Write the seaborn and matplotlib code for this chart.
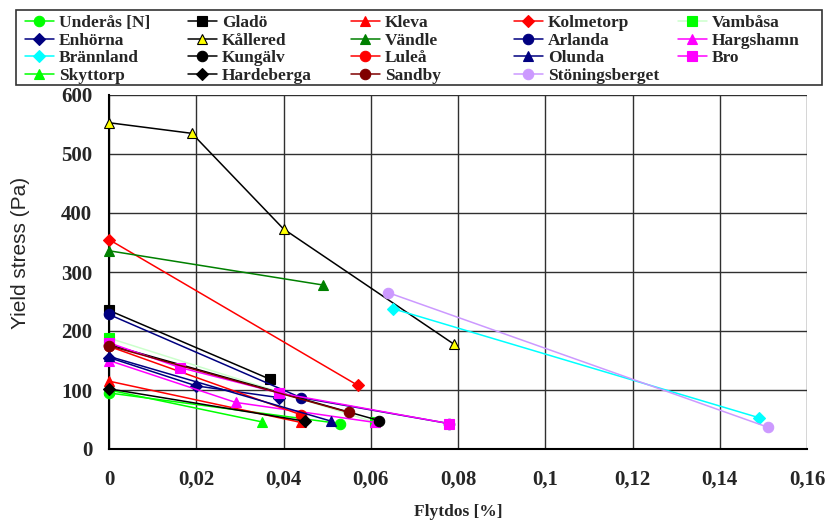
import matplotlib
matplotlib.use("Agg")
import matplotlib.pyplot as plt
import matplotlib.patches as mpatches
import seaborn as sns
import pandas as pd
from matplotlib.ticker import FuncFormatter

# data (x = Flytdos [%], y = yield stress Pa)
names = ['Underås [N]', 'Gladö', 'Kleva', 'Kolmetorp', 'Vambåsa',
         'Enhörna', 'Kållered', 'Vändle', 'Arlanda', 'Hargshamn',
         'Brännland', 'Kungälv', 'Luleå', 'Olunda', 'Bro',
         'Skyttorp', 'Hardeberga', 'Sandby', 'Stöningsberget']

x_vals = {
    'Underås [N]': [0, 0.053],
    'Gladö': [0, 0.037],
    'Kleva': [0, 0.044],
    'Kolmetorp': [0, 0.057],
    'Vambåsa': [0, 0.061],
    'Enhörna': [0, 0.020, 0.039],
    'Kållered': [0, 0.019, 0.040, 0.079],
    'Vändle': [0, 0.049],
    'Arlanda': [0, 0.044, 0.078],
    'Hargshamn': [0, 0.029, 0.061],
    'Brännland': [0.065, 0.149],
    'Kungälv': [0, 0.062],
    'Luleå': [0, 0.044],
    'Olunda': [0, 0.051],
    'Bro': [0, 0.0163, 0.039, 0.078],
    'Skyttorp': [0, 0.035],
    'Hardeberga': [0, 0.045],
    'Sandby': [0, 0.055],
    'Stöningsberget': [0.064, 0.151],
}
y_vals = {
    'Underås [N]': [95, 43],
    'Gladö': [235, 118],
    'Kleva': [115, 45],
    'Kolmetorp': [355, 108],
    'Vambåsa': [188, 45],
    'Enhörna': [155, 107, 87],
    'Kållered': [553, 535, 373, 178],
    'Vändle': [336, 278],
    'Arlanda': [228, 87, 43],
    'Hargshamn': [150, 79, 45],
    'Brännland': [238, 53],
    'Kungälv': [177, 48],
    'Luleå': [174, 58],
    'Olunda': [157, 47],
    'Bro': [180, 138, 95, 43],
    'Skyttorp': [100, 46],
    'Hardeberga': [102, 47],
    'Sandby': [175, 62],
    'Stöningsberget': [265, 37],
}

line_colors = ['#00ff00', 'black', 'red', 'red', '#ccffcc',
               '#000080', 'black', 'green', '#000080', '#ff00ff',
               '#00ffff', 'black', 'red', '#000080', '#ff00ff',
               '#00ff00', 'black', '#800000', '#cc99ff']
marker_colors = ['#00ff00', 'black', 'red', 'red', '#00ff00',
                 '#000080', 'yellow', 'green', '#000080', '#ff00ff',
                 '#00ffff', 'black', 'red', '#000080', '#ff00ff',
                 '#00ff00', 'black', '#800000', '#cc99ff']
markers = ['o', 's', '^', 'D', 's',
           'D', '^', '^', 'o', '^',
           'D', 'o', 'o', '^', 's',
           '^', 'D', 'o', 'o']

sns.set_style("white")
plt.rcParams['font.family'] = ['Liberation Serif', 'DejaVu Serif']

fig = plt.figure(figsize=(8.27, 5.24), dpi=100)
ax = fig.add_axes([109 / 827, 75 / 524, 698 / 827, 354 / 524])

handles = {}
for i, name in enumerate(names):
    df = pd.DataFrame({'x': x_vals[name], 'y': y_vals[name]})
    mec = 'black' if name == 'Kållered' else marker_colors[i]
    ms = 6 if markers[i] == 'D' else 7.5
    sns.lineplot(data=df, x='x', y='y', ax=ax, sort=False, color=line_colors[i],
                 marker=markers[i], markersize=ms, markerfacecolor=marker_colors[i],
                 markeredgecolor=mec, markeredgewidth=0.8, linewidth=1.1,
                 label=name, legend=False, zorder=3, clip_on=False)
    handles[name] = ax.lines[-1]

ax.set_xlim(0, 0.16)
ax.set_ylim(0, 600)
ax.set_xticks([0, 0.02, 0.04, 0.06, 0.08, 0.1, 0.12, 0.14, 0.16])
ax.set_yticks(range(0, 601, 100))
ax.xaxis.set_major_formatter(FuncFormatter(lambda v, p: ('%g' % round(v, 2)).replace('.', ',')))
ax.grid(True, color='#303030', linewidth=1)
ax.set_axisbelow(True)
for s in ['top', 'right']:
    ax.spines[s].set_visible(False)
for s in ['left', 'bottom']:
    ax.spines[s].set_color('black')
    ax.spines[s].set_linewidth(1.5)
ax.tick_params(axis='both', direction='out', length=6, width=1, color='#303030',
               labelsize=15, pad=6)
ax.tick_params(axis='x', pad=9)
for lab in ax.get_xticklabels() + ax.get_yticklabels():
    lab.set_fontweight('bold')

ax.set_xlabel('Flytdos [%]', fontsize=12.5, fontweight='bold')
ax.xaxis.set_label_coords(0.5, -0.155)
ax.set_ylabel('Yield stress (Pa)', fontsize=15, family=['Liberation Sans', 'DejaVu Sans'])
ax.yaxis.set_label_coords(-0.113, 0.555)

# legend: one block per column so the columns sit at the same pitch as the original
ncol = 5
col_x = [25, 188, 351, 514, 678]
for c in range(ncol):
    col_names = [names[k] for k in range(c, len(names), ncol)]
    leg = fig.legend([handles[n] for n in col_names], col_names, loc='upper left',
                     bbox_to_anchor=(col_x[c] / 827, 1 - 15 / 524), frameon=False,
                     prop={'family': 'Liberation Serif', 'weight': 'bold', 'size': 12.5},
                     handlelength=1.65, handletextpad=0.3, labelspacing=0.08,
                     borderpad=0, borderaxespad=0)
fig.add_artist(mpatches.Rectangle((16 / 827, 1 - 85 / 524), 806 / 827, 75 / 524,
                                  transform=fig.transFigure, fill=False,
                                  edgecolor='#333333', linewidth=1.2))

fig.savefig('out.png', dpi=100)
